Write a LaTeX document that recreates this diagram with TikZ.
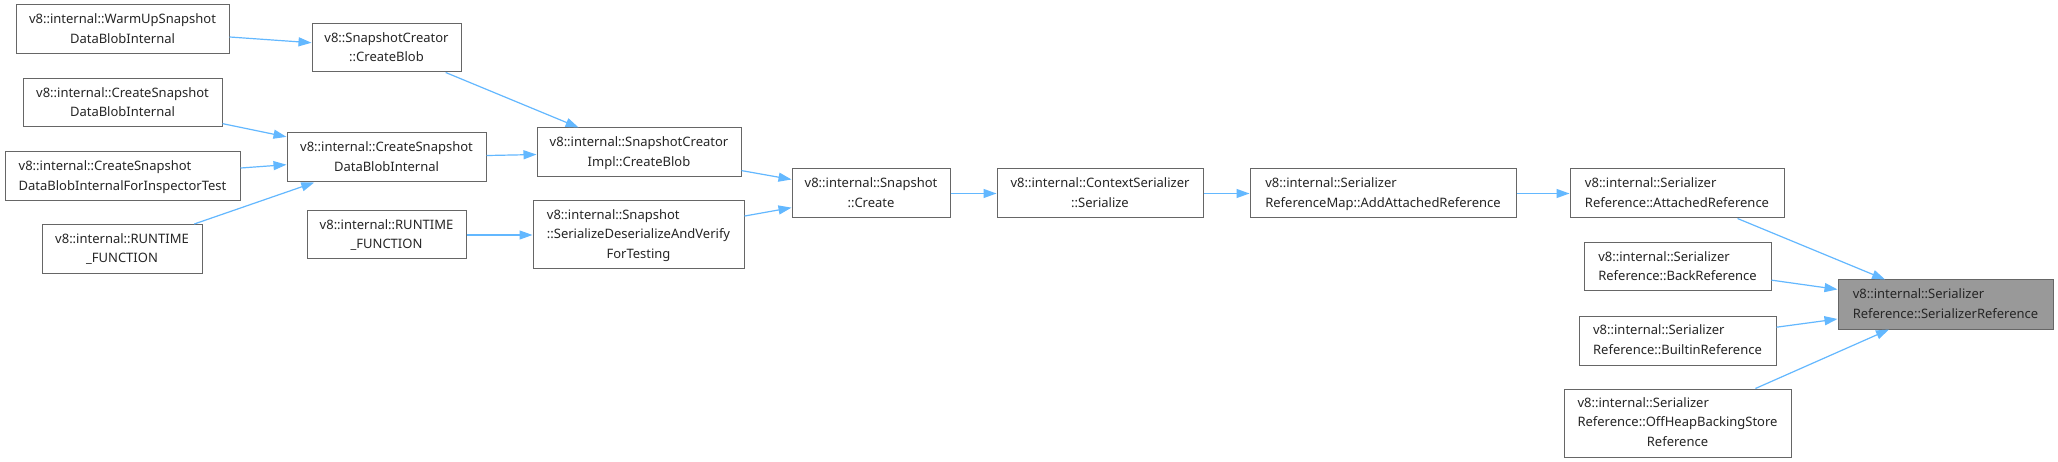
\documentclass[tikz,border=0pt]{standalone}
\usepackage{fontspec}
\setmainfont{Noto Sans}
\usetikzlibrary{arrows.meta}
\definecolor{edgeblue}{HTML}{63B8FF}
\definecolor{boxgrey}{HTML}{666666}
\definecolor{hlgrey}{HTML}{999999}
\newcommand{\Lt}[1]{\begin{tabular}{@{}l@{}}#1\end{tabular}}
\newcommand{\Ct}[1]{\begin{tabular}{@{}c@{}}#1\end{tabular}}
\newcommand{\Cl}[1]{\multicolumn{1}{@{}c@{}}{#1}}
\tikzset{
  box/.style={draw=boxgrey, line width=1pt, fill=white, inner sep=0pt, text=black!85,
    font=\fontsize{13}{19.5}\selectfont},
  hl/.style={box, fill=hlgrey},
  edge/.style={draw=edgeblue, line width=1.2pt, -{Triangle[length=13pt,width=9pt]}}
}
\begin{document}
\begin{tikzpicture}[x=1pt,y=1pt]
\useasboundingbox[fill=white] (0,0) rectangle (2058,-462);
% column 1
\node[box, minimum width=213pt, minimum height=49pt] (warm) at (122.5,-29.5) {\Ct{v8::internal::WarmUpSnapshot\\DataBlobInternal}};
\node[box, minimum width=199pt, minimum height=48pt] (csleft) at (122.5,-103) {\Ct{v8::internal::CreateSnapshot\\DataBlobInternal}};
\node[box, minimum width=235pt, minimum height=49pt] (csinsp) at (122.5,-176.5) {\Lt{v8::internal::CreateSnapshot\\DataBlobInternalForInspectorTest}};
\node[box, minimum width=160pt, minimum height=49pt] (rtleft) at (122,-249) {\Ct{v8::internal::RUNTIME\\\_FUNCTION}};
% column 2
\node[box, minimum width=149pt, minimum height=48pt] (scblob) at (386.5,-48) {\Ct{v8::SnapshotCreator\\::CreateBlob}};
\node[box, minimum width=199pt, minimum height=49pt] (csmid) at (386.5,-157.5) {\Ct{v8::internal::CreateSnapshot\\DataBlobInternal}};
\node[box, minimum width=159pt, minimum height=48pt] (rtmid) at (386.5,-235) {\Ct{v8::internal::RUNTIME\\\_FUNCTION}};
% column 3
\node[box, minimum width=204pt, minimum height=49pt] (impl) at (639,-152.5) {\Ct{v8::internal::SnapshotCreator\\Impl::CreateBlob}};
\node[box, minimum width=211pt, minimum height=68pt] (sdv) at (638.5,-235) {\Lt{v8::internal::Snapshot\\::SerializeDeserializeAndVerify\\\Cl{ForTesting}}};
% chain
\node[box, minimum width=158pt, minimum height=49pt] (create) at (871,-193.5) {\Ct{v8::internal::Snapshot\\::Create}};
\node[box, minimum width=206pt, minimum height=49pt] (ctx) at (1100,-193.5) {\Ct{v8::internal::ContextSerializer\\::Serialize}};
\node[box, minimum width=266pt, minimum height=49pt] (addatt) at (1383,-193.5) {\Lt{v8::internal::Serializer\\ReferenceMap::AddAttachedReference}};
% right
\node[box, minimum width=214pt, minimum height=49pt] (att) at (1677,-193.5) {\Lt{v8::internal::Serializer\\Reference::AttachedReference}};
\node[box, minimum width=187pt, minimum height=48pt] (back) at (1677.5,-267) {\Lt{v8::internal::Serializer\\Reference::BackReference}};
\node[box, minimum width=197pt, minimum height=49pt] (builtin) at (1677.5,-340.5) {\Lt{v8::internal::Serializer\\Reference::BuiltinReference}};
\node[box, minimum width=227pt, minimum height=68pt] (offheap) at (1677.5,-423) {\Lt{v8::internal::Serializer\\Reference::OffHeapBackingStore\\\Cl{Reference}}};
\node[hl, minimum width=215pt, minimum height=49pt] (sref) at (1945.5,-304.5) {\Lt{v8::internal::Serializer\\Reference::SerializerReference}};
% edges
\draw[edge] (warm) -- (scblob);
\draw[edge] (scblob) -- (impl);
\draw[edge] (csleft) -- (csmid);
\draw[edge] (csinsp) -- (csmid);
\draw[edge] (rtleft) -- (csmid);
\draw[edge] (csmid) -- (impl);
\draw[edge] (rtmid) -- (sdv);
\draw[edge] (impl) -- (create);
\draw[edge] (sdv) -- (create);
\draw[edge] (create) -- (ctx);
\draw[edge] (ctx) -- (addatt);
\draw[edge] (addatt) -- (att);
\draw[edge] (att) -- (sref);
\draw[edge] (back) -- (sref);
\draw[edge] (builtin) -- (sref);
\draw[edge] (offheap) -- (sref);
\end{tikzpicture}
\end{document}
